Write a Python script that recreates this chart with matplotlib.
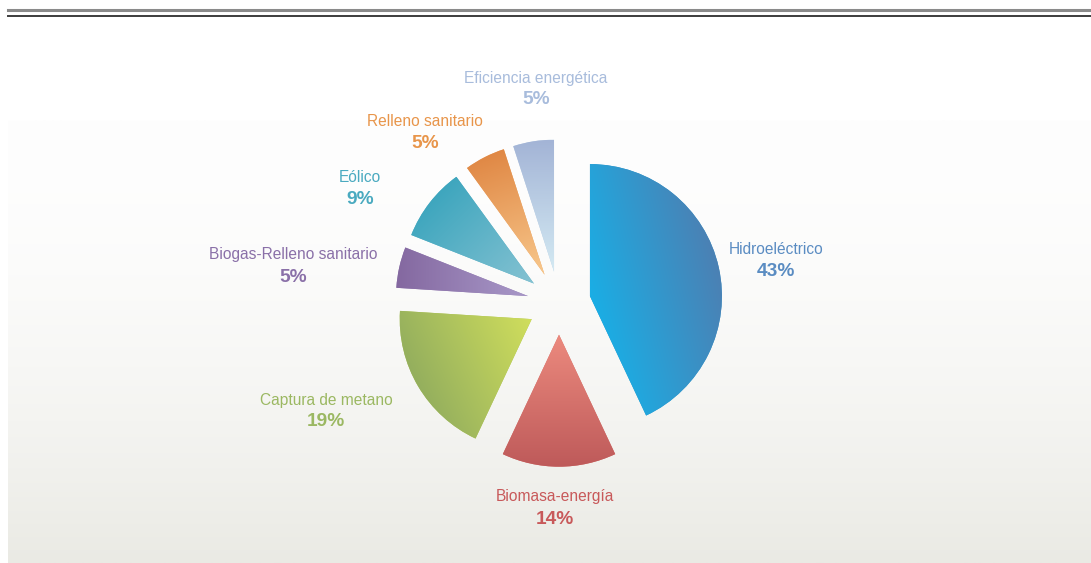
import numpy as np
import matplotlib
matplotlib.use('Agg')
import matplotlib.pyplot as plt
from matplotlib import font_manager
from matplotlib.colors import to_rgb

W, H = 1091, 563

labels = ['Hidroeléctrico', 'Biomasa-energía', 'Captura de metano',
          'Biogas-Relleno sanitario', 'Eólico', 'Relleno sanitario',
          'Eficiencia energética']
shares = [43, 14, 19, 5, 9, 5, 5]

# gradient per slice: (start colour, end colour, direction in degrees)
grad = [('#1AAEE5', '#4C80B3', 15),
        ('#EC8A7E', '#BE5A5A', -90),
        ('#93AE5E', '#D0DE5C', 25),
        ('#8468A0', '#A898C8', 0),
        ('#3EA6BE', '#85C2D2', -45),
        ('#E08845', '#F8C88C', -70),
        ('#A3B4D6', '#D4EAF3', -90)]
text_colors = ['#5A8CC2', '#C8595A', '#9BB862', '#8A70A8', '#4AAAC0',
               '#E8954A', '#A8BCDC']
# label anchor (x, y from top) in pixels
label_pos = [(776, 250), (555, 497), (326, 400), (293, 255),
             (360, 177), (425, 121), (536, 78)]

installed = {f.name for f in font_manager.fontManager.ttflist}
narrow = [f for f in ['Liberation Sans Narrow', 'Arial Narrow',
                      'DejaVu Sans Condensed'] if f in installed]
if narrow:
    FONT, fs_lab, fs_pct = [narrow[0], 'DejaVu Sans'], 13, 14.5
else:
    FONT, fs_lab, fs_pct = ['Liberation Sans', 'DejaVu Sans'], 11.2, 13.8

R = 132


def ramp(c1, c2, t):
    a = np.array(to_rgb(c1))
    b = np.array(to_rgb(c2))
    return a + (b - a) * t[..., None]


fig = plt.figure(figsize=(W / 100, H / 100), dpi=100)
ax = fig.add_axes([0, 0, 1, 1])

# light panel behind the pie
ty = np.linspace(0, 1, 256)[:, None] * np.ones((1, 2))
bg = ramp('#FEFEFE', '#EAEAE4', ty ** 1.8)
ax.imshow(bg, extent=(8, W, 0, H - 120), origin='upper', aspect='auto',
          interpolation='bilinear', zorder=0)

# rules under the (cropped) heading
ax.plot([8, W], [H - 10, H - 10], color='#8A8A8A', lw=2.2, zorder=1)
ax.plot([8, W], [H - 15.5, H - 15.5], color='#3C3C3C', lw=1.4, zorder=1)

# pie: explode is given in data units here
wedges, _ = ax.pie(shares, startangle=90, counterclock=False,
                   explode=[0.24 * R] * len(shares), radius=R,
                   center=(559, H - 303),
                   wedgeprops=dict(linewidth=0))

for w, (c1, c2, ang) in zip(wedges, grad):
    w.set_facecolor(ramp(c1, c2, np.array(0.5)))
    w.set_zorder(2)
    verts = w.get_path().vertices
    x0, y0 = verts.min(axis=0)
    x1, y1 = verts.max(axis=0)
    d = np.array([np.cos(np.radians(ang)), np.sin(np.radians(ang))])
    proj = verts @ d
    gx, gy = np.meshgrid(np.linspace(x0, x1, 200), np.linspace(y0, y1, 200))
    t = (gx * d[0] + gy * d[1] - proj.min()) / (proj.max() - proj.min())
    img = ax.imshow(ramp(c1, c2, np.clip(t, 0, 1)), extent=(x0, x1, y0, y1),
                    origin='lower', aspect='auto', interpolation='bilinear',
                    zorder=3)
    img.set_clip_path(w)

for lab, val, col, (lx, ly) in zip(labels, shares, text_colors, label_pos):
    ax.text(lx, H - ly, lab, color=col, fontsize=fs_lab, family=FONT,
            ha='center', va='center', zorder=4)
    ax.text(lx, H - ly - 22, f'{val}%', color=col, fontsize=fs_pct,
            fontweight='bold', family=FONT, ha='center', va='center', zorder=4)

ax.set_xlim(0, W)
ax.set_ylim(0, H)
ax.set_aspect('auto')
ax.axis('off')

fig.savefig('out.png', dpi=100, facecolor='white')
